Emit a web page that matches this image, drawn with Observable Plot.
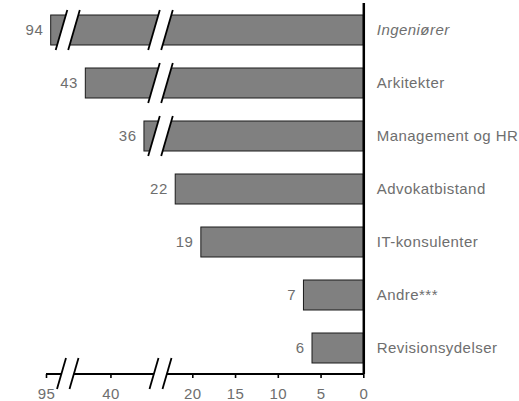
<!DOCTYPE html>
<html>
<head>
<meta charset="utf-8">
<script src="https://cdn.jsdelivr.net/npm/d3@7"></script>
<script src="https://cdn.jsdelivr.net/npm/@observablehq/plot@0.6"></script>
<style>
  html, body { margin: 0; padding: 0; background: #fff; }
</style>
</head>
<body>
<div id="chart"></div>
<script>
// ---- data ----
const categories = ["Ingeniører", "Arkitekter", "Management og HR", "Advokatbistand", "IT-konsulenter", "Andre***", "Revisionsydelser"];
const values = [94, 43, 36, 22, 19, 7, 6];
const tickValues = [95, 40, 20, 15, 10, 5, 0];
const italicCategories = ["Ingeniører"];
// broken-axis gaps: [upper value, lower value] of each cut
const breakGaps = [[91.7, 44.35], [34.8, 22.96]];

const data = categories.map((category, i) => ({category, value: values[i]}));

// piecewise x scale (broken axis)
const xDomain = [95, breakGaps[0][0], breakGaps[0][1], breakGaps[1][0], breakGaps[1][1], 0];
const xRange = [46, 61.5, 74, 154, 167, 363.3];

const textColor = "#6e6e6e";
const FONT = 15;

function breakMarks(index, scales, channels, dims) {
  const x = scales.x, y = scales.y;
  const bw = typeof y.bandwidth === "function" ? y.bandwidth() : y.bandwidth;
  const g = d3.create("svg:g");
  const slant = 0.29;
  function cut(xa, xb, top, bottom) {
    const dx = (bottom - top) * slant / 2;
    g.append("polygon")
      .attr("points", [[xa - dx, bottom], [xa + dx, top], [xb + dx, top], [xb - dx, bottom]].map(p => p.join(",")).join(" "))
      .attr("fill", "white");
    for (const xc of [xa, xb]) {
      g.append("line")
        .attr("x1", xc - dx).attr("y1", bottom)
        .attr("x2", xc + dx).attr("y2", top)
        .attr("stroke", "black").attr("stroke-width", 1.8);
    }
  }
  // axis line
  const y0 = dims.height - dims.marginBottom;
  g.append("line")
    .attr("x1", x(tickValues[0])).attr("x2", x(0))
    .attr("y1", y0).attr("y2", y0)
    .attr("stroke", "black").attr("stroke-width", 2);
  for (const d of data) {
    const top = y(d.category), bottom = top + bw;
    for (const [hi, lo] of breakGaps) {
      if (d.value > hi) cut(x(hi), x(lo), top - 5, bottom + 5);
    }
  }
  for (const [hi, lo] of breakGaps) cut(x(hi), x(lo), y0 - 16, y0 + 15);
  return g.node();
}

const chart = Plot.plot({
  width: 519,
  height: 401,
  marginTop: 3,
  marginBottom: 27,
  marginLeft: 0,
  marginRight: 0,
  style: {fontFamily: "'Liberation Sans', Arial, Helvetica, sans-serif", fontSize: FONT + "px", background: "white", letterSpacing: "0.45px"},
  x: {type: "linear", domain: xDomain, range: xRange, nice: false, zero: false, clamp: false},
  y: {type: "band", domain: categories, paddingInner: 0.434, paddingOuter: 0.217, axis: null},
  marks: [
    Plot.barX(data, {x: "value", y: "category", fill: "#808080", stroke: "#1a1a1a", strokeWidth: 1}),
    breakMarks,
    Plot.ruleX([0], {stroke: "black", strokeWidth: 2.5}),
    Plot.axisX({ticks: tickValues, tickSize: 4, tickPadding: 10, stroke: "black", strokeWidth: 1.6, fill: textColor, fontSize: FONT, label: null, tickFormat: d => String(d)}),
    Plot.text(data, {filter: d => !italicCategories.includes(d.category), x: 0, y: "category", text: "category", textAnchor: "start", dx: 13, fill: textColor, fontSize: FONT}),
    Plot.text(data, {filter: d => italicCategories.includes(d.category), x: 0, y: "category", text: "category", textAnchor: "start", dx: 13, fill: textColor, fontSize: FONT, fontStyle: "italic"}),
    Plot.text(data, {x: "value", y: "category", text: d => String(d.value), textAnchor: "end", dx: -8, fill: textColor, fontSize: FONT})
  ]
});
document.getElementById("chart").appendChild(chart);
</script>
</body>
</html>
